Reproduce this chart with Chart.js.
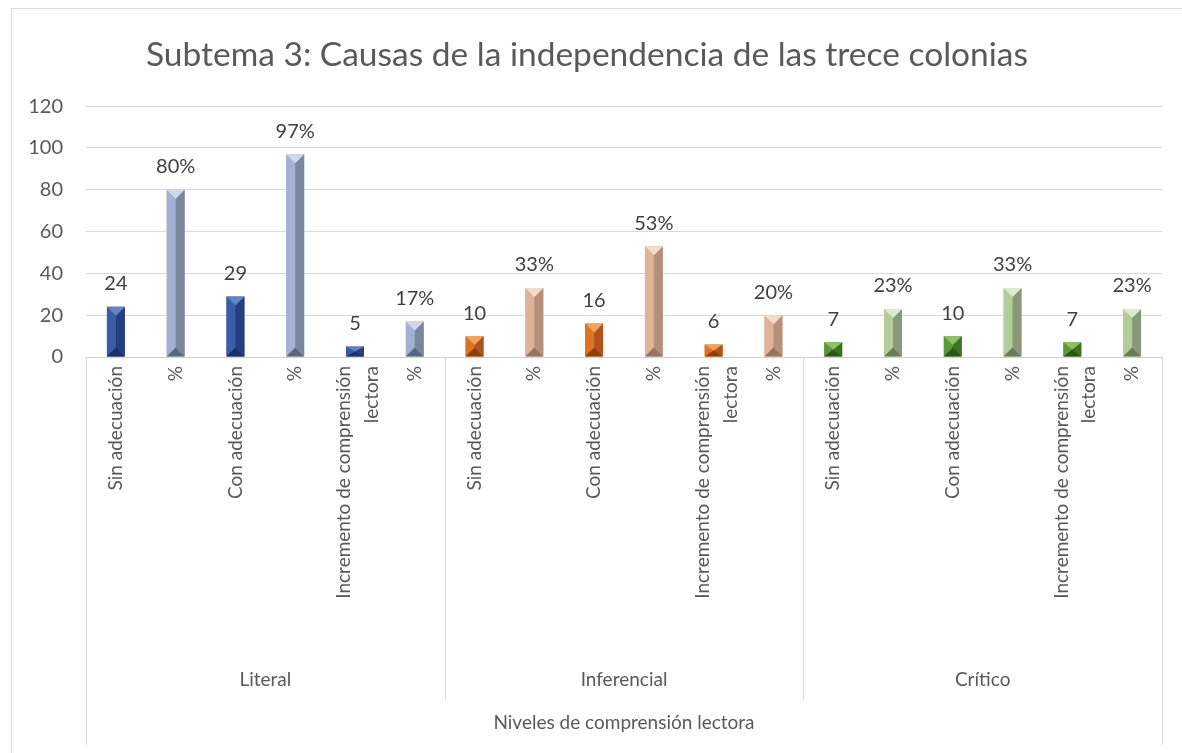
<!DOCTYPE html>
<html>
<head>
<meta charset="utf-8">
<script src="https://cdn.jsdelivr.net/npm/chart.js@4"></script>
<style>
  html, body { margin: 0; padding: 0; background: #fff; }
  canvas { display: block; }
</style>
</head>
<body>
<canvas id="chart" width="1182" height="753"></canvas>
<script>
// data
const title = "Subtema 3: Causas de la independencia de las trece colonias";
const axisTitle = "Niveles de comprensión lectora";
const groups = ["Literal", "Inferencial", "Crítico"];
const subLabels = [
  "Sin adecuación",
  "%",
  "Con adecuación",
  "%",
  ["Incremento de comprensión", "lectora"],
  "%",
];
const literal = [24, 80, 29, 97, 5, 17];
const inferencial = [10, 33, 16, 53, 6, 20];
const critico = [7, 23, 10, 33, 7, 23];
const yTicks = [0, 20, 40, 60, 80, 100, 120];

const labels = [...subLabels, ...subLabels, ...subLabels];
const values = [...literal, ...inferencial, ...critico];

// colours: [left face, top, right face, bottom]
const shades = {
  Literal: {
    n: ["#3a5ba6", "#6383c9", "#243f80", "#1b2f63"],
    p: ["#a3b2d3", "#cdd7ee", "#7a869c", "#5c667a"],
  },
  Inferencial: {
    n: ["#dd7424", "#f3a25a", "#b0541a", "#8a3f12"],
    p: ["#deb398", "#f6dcc8", "#b49079", "#927461"],
  },
  Crítico: {
    n: ["#5b9838", "#8bc263", "#3d7222", "#2c5618"],
    p: ["#b2cd9a", "#d9ecc8", "#889878", "#6b7a5e"],
  },
};
const barShade = (i) => {
  const g = groups[Math.floor(i / subLabels.length)];
  return shades[g][i % 2 === 0 ? "n" : "p"];
};

const font = "Lato";
const textColor = "#595959";
const tickSize = 19;
const tickLine = 1.45;

// 3d-ish bevel on every bar
const bevel = {
  id: "bevel",
  afterDatasetsDraw(chart) {
    const { ctx } = chart;
    const meta = chart.getDatasetMeta(0);
    meta.data.forEach((bar, i) => {
      const { x, y, base, width } = bar.getProps(["x", "y", "base", "width"], true);
      const l = x - width / 2, r = x + width / 2;
      const h = Math.min(width / 2, (base - y) / 2);
      const [cl, ct, cr, cb] = barShade(i);
      const poly = (pts, c) => {
        ctx.beginPath();
        ctx.moveTo(pts[0][0], pts[0][1]);
        for (const p of pts.slice(1)) ctx.lineTo(p[0], p[1]);
        ctx.closePath();
        ctx.fillStyle = c;
        ctx.fill();
      };
      ctx.save();
      poly([[l, y], [x, y + h], [x, base - h], [l, base]], cl);
      poly([[r, y], [x, y + h], [x, base - h], [r, base]], cr);
      poly([[l, y], [r, y], [x, y + h]], ct);
      poly([[l, base], [r, base], [x, base - h]], cb);
      ctx.restore();
    });
  },
};

// value labels above the bars
const valueLabels = {
  id: "valueLabels",
  afterDatasetsDraw(chart) {
    const { ctx } = chart;
    const meta = chart.getDatasetMeta(0);
    ctx.save();
    ctx.font = `20px ${font}`;
    ctx.fillStyle = "#404040";
    ctx.textAlign = "center";
    ctx.textBaseline = "bottom";
    meta.data.forEach((bar, i) => {
      const v = values[i];
      const txt = i % 2 === 1 ? v + "%" : String(v);
      ctx.fillText(txt, bar.x, bar.y - 13);
    });
    ctx.restore();
  },
};

// center the two-line rotated tick labels on their tick
const centerMultiline = {
  id: "centerMultiline",
  beforeDraw(chart) {
    const xs = chart.scales.x;
    const items = xs.getLabelItems(chart.chartArea);
    for (const it of items) {
      if (Array.isArray(it.label) && !it._shifted) {
        const shift = ((it.label.length - 1) * tickSize * tickLine) / 2 - 3;
        it.options.translation[0] -= shift;
        it._shifted = true;
      }
    }
  },
};

// group row, axis title and the table-like lines under the axis
const groupAxis = {
  id: "groupAxis",
  afterDraw(chart) {
    const { ctx, chartArea } = chart;
    const xs = chart.scales.x;
    const n = subLabels.length;
    const edge = (k) =>
      k === 0
        ? chartArea.left
        : k === groups.length
        ? chartArea.right
        : (xs.getPixelForValue(k * n - 1) + xs.getPixelForValue(k * n)) / 2;
    ctx.save();
    ctx.strokeStyle = "#d9d9d9";
    ctx.lineWidth = 1;
    ctx.beginPath();
    for (let k = 0; k <= groups.length; k++) {
      const px = Math.round(edge(k)) + 0.5;
      const outer = k === 0 || k === groups.length;
      ctx.moveTo(px, chartArea.bottom);
      ctx.lineTo(px, outer ? 745 : 700);
    }
    ctx.stroke();
    // outer frame
    ctx.strokeRect(11.5, 8.5, 1200, 800);

    ctx.fillStyle = textColor;
    ctx.font = `19px ${font}`;
    ctx.textAlign = "center";
    ctx.textBaseline = "middle";
    groups.forEach((g, k) => {
      ctx.fillText(g, (edge(k) + edge(k + 1)) / 2, 680);
    });
    ctx.fillText(axisTitle, (chartArea.left + chartArea.right) / 2, 723);
    ctx.restore();
  },
};

new Chart(document.getElementById("chart"), {
  type: "bar",
  data: {
    labels: labels,
    datasets: [
      {
        data: values,
        backgroundColor: values.map((v, i) => barShade(i)[0]),
        borderWidth: 0,
        barPercentage: 0.3,
        categoryPercentage: 1,
      },
    ],
  },
  plugins: [bevel, valueLabels, centerMultiline, groupAxis],
  options: {
    responsive: false,
    animation: false,
    layout: {
      padding: { left: 12, right: 20, top: 10, bottom: 8 },
    },
    scales: {
      x: {
        grid: { display: false },
        border: { display: true, color: "#d0d0d0" },
        ticks: {
          color: textColor,
          font: { family: font, size: tickSize, lineHeight: tickLine },
          minRotation: 90,
          maxRotation: 90,
          autoSkip: false,
          padding: 1,
        },
        afterFit(scale) {
          scale.height = 388;
        },
      },
      y: {
        min: 0,
        max: 120,
        afterBuildTicks(scale) {
          scale.ticks = yTicks.map((v) => ({ value: v }));
        },
        grid: { color: "#d9d9d9", drawTicks: false },
        border: { display: false },
        ticks: {
          color: textColor,
          font: { family: font, size: 20 },
          padding: 23,
        },
        afterFit(scale) {
          scale.width = 74;
        },
      },
    },
    plugins: {
      legend: { display: false },
      tooltip: { enabled: false },
      title: {
        display: true,
        text: title,
        color: textColor,
        font: { family: font, size: 33.5, weight: "normal", lineHeight: 1.2 },
        padding: { top: 25, bottom: 31 },
      },
    },
  },
});
</script>
</body>
</html>
